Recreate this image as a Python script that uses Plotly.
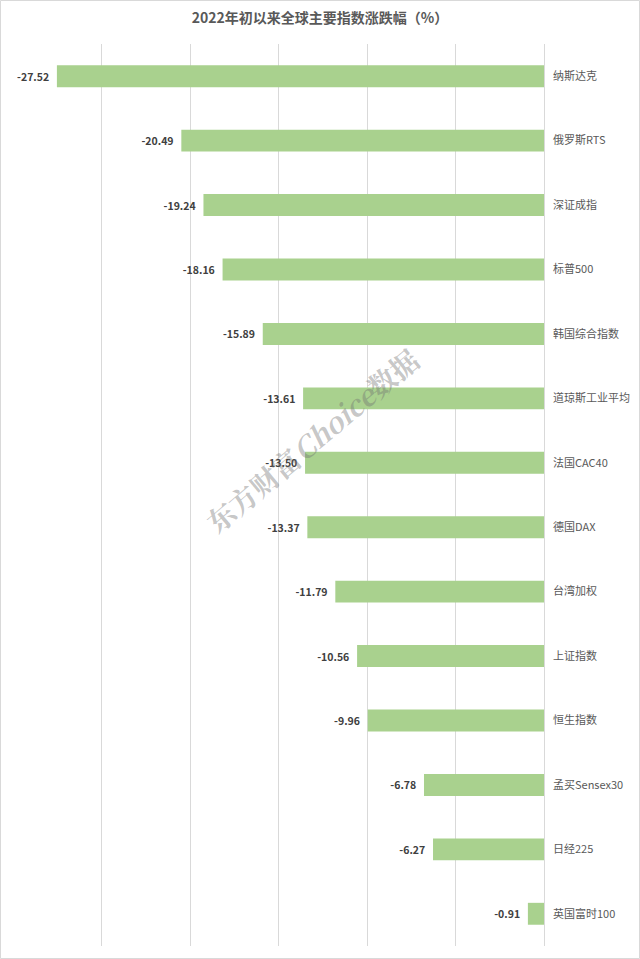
import plotly.graph_objects as go

categories = ["纳斯达克", "俄罗斯RTS", "深证成指", "标普500", "韩国综合指数", "道琼斯工业平均",
              "法国CAC40", "德国DAX", "台湾加权", "上证指数", "恒生指数", "孟买Sensex30",
              "日经225", "英国富时100"]
values = [-27.52, -20.49, -19.24, -18.16, -15.89, -13.61, -13.50, -13.37, -11.79, -10.56,
          -9.96, -6.78, -6.27, -0.91]
title = "2022年初以来全球主要指数涨跌幅（%）"

W, H = 640, 959
ml, mr, mt, mb = 13, 96, 44, 13
font = "Noto Sans CJK SC"

fig = go.Figure(go.Bar(
    x=values, y=categories, orientation="h",
    marker=dict(color="#a9d18e", line=dict(width=0)),
    text=[f"{v:.2f}  " for v in values], textposition="outside",
    textfont=dict(family=font, size=10.5, color="#404040", weight="bold"),
    cliponaxis=False,
))

pw, ph = W - ml - mr, H - mt - mb
fig.update_layout(
    width=W, height=H,
    margin=dict(l=ml, r=mr, t=mt, b=mb, autoexpand=False),
    paper_bgcolor="white", plot_bgcolor="white",
    bargap=0.66,
    showlegend=False,
    font=dict(family=font, color="#595959"),
    title=dict(text=title, x=0.5, xanchor="center", y=1 - 18 / H, yanchor="middle",
               font=dict(family=font, size=14, color="#595959", weight="bold")),
    xaxis=dict(range=[-30, 0], dtick=5, showgrid=True, gridcolor="#d9d9d9", gridwidth=1,
               showticklabels=False, zeroline=True, zerolinecolor="#d9d9d9", zerolinewidth=1,
               showline=False, fixedrange=True, automargin=False),
    yaxis=dict(side="right", autorange="reversed", showgrid=False, showline=False,
               ticks="", ticklabelstandoff=8, automargin=False,
               tickfont=dict(family=font, size=11, color="#595959")),
    shapes=[dict(type="rect", xref="paper", yref="paper",
                 x0=(0.5 - ml) / pw, x1=(W - 0.5 - ml) / pw,
                 y0=(-mb + 0.5) / ph, y1=(H - mb - 0.5) / ph,
                 line=dict(color="#d9d9d9", width=1), fillcolor="rgba(0,0,0,0)")],
    annotations=[dict(text="东方财富<i>Choice</i>数据", xref="paper", yref="paper",
                      x=(312 - ml) / pw, y=(H - mb - 440) / ph, showarrow=False,
                      textangle=-40,
                      font=dict(family="Noto Serif CJK SC, serif", size=28,
                                color="rgba(110,110,110,0.4)", weight="bold"))],
)

fig.write_html("out.html", config={"displayModeBar": False},
               post_script="document.body.style.margin='0';")
